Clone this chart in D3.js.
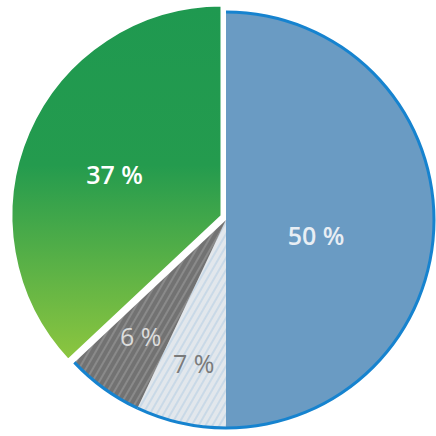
<!DOCTYPE html>
<html><head><meta charset="utf-8">
<script src="https://cdn.jsdelivr.net/npm/d3@7"></script>
<style>body{margin:0;background:#fff}svg{display:block}</style>
</head><body>
<script>
// slice data, clockwise from 12 o'clock
var labels = ['50 %', '7 %', '6 %', '37 %'];
var values = [50, 7, 6, 37];
var labelColors = ['#e8eef4', '#7a7a7a', '#dcdcdc', '#ffffff'];

var W = 436, H = 436;
var svg = d3.select('body').append('svg').attr('width', W).attr('height', H);
var defs = svg.append('defs');

var grad = defs.append('linearGradient').attr('id', 'gGreen')
    .attr('x1', 0).attr('y1', 0).attr('x2', 0).attr('y2', 1);
grad.append('stop').attr('offset', '0%').attr('stop-color', '#1f9950');
grad.append('stop').attr('offset', '45%').attr('stop-color', '#249b4e');
grad.append('stop').attr('offset', '100%').attr('stop-color', '#8dc63f');

function stripes(id, bg, fg) {
  var p = defs.append('pattern').attr('id', id).attr('patternUnits', 'userSpaceOnUse')
      .attr('width', 6).attr('height', 6).attr('patternTransform', 'rotate(30)');
  p.append('rect').attr('width', 6).attr('height', 6).attr('fill', bg);
  p.append('rect').attr('width', 2).attr('height', 6).attr('fill', fg);
}
stripes('pLight', '#e2e7ec', '#c9d9e7');
stripes('pDark', '#727272', '#8a8a8a');

var fills = ['#6a9bc3', 'url(#pLight)', 'url(#pDark)', 'url(#gGreen)'];

var pie = d3.pie().sort(null).value(function (d) { return d; });
var arcs = pie(values);

// blue + hatched slices share one centre, green sits slightly apart
var centres = [[226, 220], [226, 220], [226, 220], [222, 216]];
var radii = [208, 208, 208, 211];
// label layout: radius from centre and vertical nudge
var labelR = [90, 148, 145, 117];
var labelDy = [16, 0, 0, 6];

arcs.forEach(function (a, i) {
  var arc = d3.arc().innerRadius(0).outerRadius(radii[i]);
  var g = svg.append('g').attr('transform', 'translate(' + centres[i] + ')');
  g.append('path').attr('d', arc(a)).attr('fill', fills[i])
    .attr('stroke', i === 3 ? '#fff' : 'none').attr('stroke-width', 3);
  if (i < 3) {
    // blue rim along the outer edge
    var rim = d3.arc().innerRadius(radii[i] - 1.5).outerRadius(radii[i] + 1.5);
    g.append('path').attr('d', rim(a)).attr('fill', '#1683cf');
  }
});

arcs.forEach(function (a, i) {
  var la = d3.arc().innerRadius(labelR[i]).outerRadius(labelR[i]);
  var c = la.centroid(a);
  svg.append('text')
    .attr('x', centres[i][0] + c[0]).attr('y', centres[i][1] + c[1] + labelDy[i])
    .attr('text-anchor', 'middle').attr('dy', '0.35em')
    .attr('font-family', 'Open Sans, sans-serif')
    .attr('font-weight', i === 0 || i === 3 ? 600 : 400)
    .attr('font-size', 25)
    .attr('fill', labelColors[i])
    .text(labels[i]);
});
</script>
</body></html>
